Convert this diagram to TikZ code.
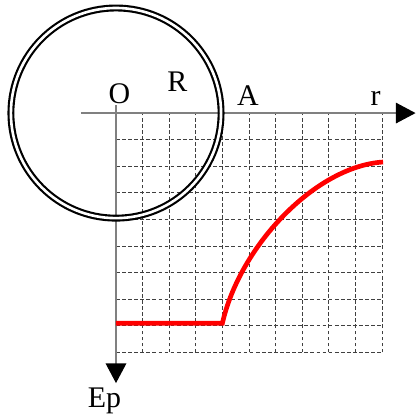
\documentclass[tikz,border=0pt]{standalone}
\usepackage{fontspec}
\setmainfont{Liberation Serif}
\usetikzlibrary{arrows.meta}

\tikzset{
  gridline/.style={black!75, line width=1pt, dash pattern=on 4pt off 2.5pt},
  axisline/.style={black!50, line width=1.2pt, -{Triangle[length=21pt,width=22pt,color=black]}},
  shell/.style={black, line width=2.3pt, double=white, double distance=2.8pt},
  curve/.style={red, line width=5pt},
  lbl/.style={font=\fontsize{32}{38}\selectfont, inner sep=0pt}
}

\begin{document}
\begin{tikzpicture}
\useasboundingbox (-4.36,-11.43) rectangle (11.39,4.25);
\coordinate (O) at (0,0);

% grid
\draw[gridline] (0,0) grid (10,-9);

% axes
\draw[axisline] (-1.32,0) -- (11.26,0) coordinate (rtip);
\draw[axisline] (0,0.3) -- (0,-10.15) coordinate (eptip);

% sphere
\draw[shell] (O) circle (3.95);

% potential energy
\coordinate (A) at (4,-7.9);
\draw[curve] (0,-7.9) -- (A) .. controls (4.65,-5) and (7.5,-2) .. (10.04,-1.84);

\node[lbl] (olab) at (0.13,0.73) {O};
\node[lbl] (rlab) at (2.31,1.18) {R};
\node[lbl] (alab) at (4.96,0.66) {A};
\node[lbl] (raxis) at (9.76,0.55) {r};
\node[lbl] (eplab) at (-0.43,-10.83) {Ep};
\end{tikzpicture}
\end{document}
